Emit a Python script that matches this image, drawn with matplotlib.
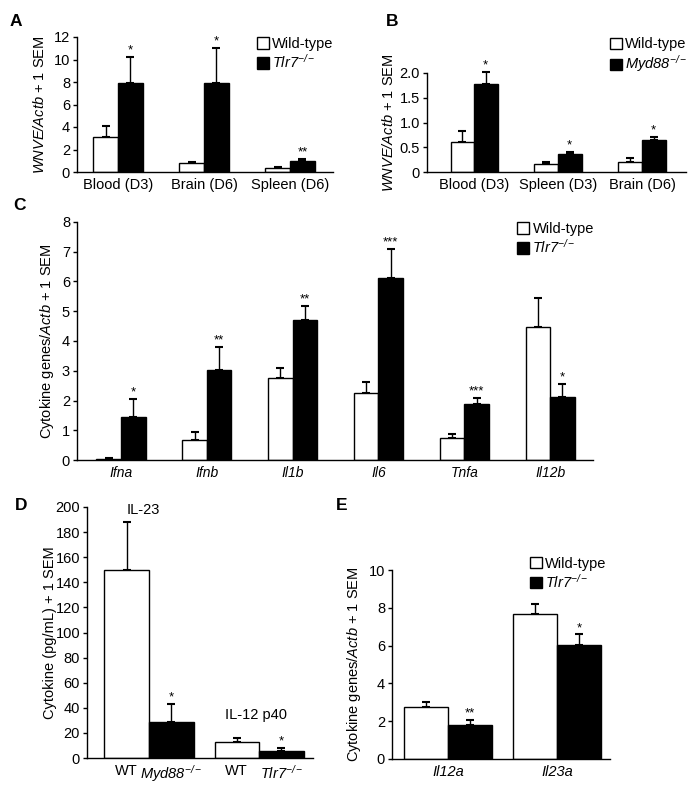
import numpy as np
import matplotlib
matplotlib.use('Agg')
import matplotlib.pyplot as plt
from matplotlib.patches import Patch

plt.rcParams['font.family'] = ['Liberation Sans', 'DejaVu Sans']
plt.rcParams['font.size'] = 10.5
plt.rcParams['mathtext.fontset'] = 'custom'
# italic for everything inside $...$, digits included (gene names)
plt.rcParams['mathtext.rm'] = 'Liberation Sans:italic'
plt.rcParams['mathtext.it'] = 'Liberation Sans:italic'
plt.rcParams['mathtext.bf'] = 'Liberation Sans:bold'
plt.rcParams['axes.linewidth'] = 1.0

# ---- data ----
# A: WNVE/Actb, WT vs Tlr7-/-
a_cats = ['Blood (D3)', 'Brain (D6)', 'Spleen (D6)']
a_wt = [3.15, 0.83, 0.35]
a_wt_sem = [0.98, 0.05, 0.09]
a_ko = [7.94, 7.88, 0.94]
a_ko_sem = [2.30, 3.18, 0.21]
a_stars = ['*', '*', '**']

# B: WNVE/Actb, WT vs Myd88-/-
b_cats = ['Blood (D3)', 'Spleen (D3)', 'Brain (D6)']
b_wt = [0.60, 0.17, 0.21]
b_wt_sem = [0.22, 0.04, 0.07]
b_ko = [1.77, 0.36, 0.65]
b_ko_sem = [0.26, 0.04, 0.05]
b_stars = ['*', '*', '*']

# C: cytokine genes
c_cats = ['Ifna', 'Ifnb', 'Il1b', 'Il6', 'Tnfa', 'Il12b']
c_wt = [0.05, 0.66, 2.74, 2.26, 0.74, 4.48]
c_wt_sem = [0.03, 0.27, 0.34, 0.35, 0.12, 0.96]
c_ko = [1.44, 3.03, 4.72, 6.11, 1.87, 2.11]
c_ko_sem = [0.60, 0.78, 0.47, 0.97, 0.21, 0.45]
c_stars = ['*', '**', '**', '***', '***', '*']

# D: cytokine protein (pg/mL)
d_groups = ['IL-23', 'IL-12 p40']
d_labels = ['WT', r'$Myd88^{-/-}$', 'WT', r'$Tlr7^{-/-}$']
d_wt = [150, 13]
d_wt_sem = [38, 3]
d_ko = [29, 5.5]
d_ko_sem = [14, 2.5]
d_stars = ['*', '*']

# E: Il12a / Il23a
e_cats = ['Il12a', 'Il23a']
e_wt = [2.77, 7.69]
e_wt_sem = [0.22, 0.53]
e_ko = [1.78, 6.04]
e_ko_sem = [0.27, 0.55]
e_stars = ['**', '*']

W, H = 696, 788
fig = plt.figure(figsize=(W / 100, H / 100), dpi=100)


def px_axes(l, r, t, b):
    return fig.add_axes([l / W, 1 - b / H, (r - l) / W, (b - t) / H])


def style(ax):
    for s in ['top', 'right']:
        ax.spines[s].set_visible(False)
    ax.tick_params(axis='y', direction='out', length=3, width=1, pad=2)
    ax.tick_params(axis='x', length=0, pad=4)


def pair_bars(ax, x, wt, wt_sem, ko, ko_sem, w, stars):
    x = np.asarray(x, dtype=float)
    ax.bar(x - w / 2, wt, w, color='white', edgecolor='black', lw=1, zorder=2)
    ax.bar(x + w / 2, ko, w, color='black', edgecolor='black', lw=1, zorder=2)
    for xs, v, s in [(x - w / 2, wt, wt_sem), (x + w / 2, ko, ko_sem)]:
        eb = ax.errorbar(xs, v, yerr=[np.zeros(len(v)), s], fmt='none',
                         ecolor='black', elinewidth=1, capsize=3, capthick=1.5, zorder=1)
        for art in eb.lines[1] + eb.lines[2]:
            art.set_clip_on(False)
    for xi, v, s, st in zip(x, ko, ko_sem, stars):
        ax.annotate(st, (xi + w / 2, v + s), xytext=(0, 2.5), textcoords='offset points',
                    ha='center', va='baseline', fontsize=9.5, annotation_clip=False)


def legend(ax, ko_label, x, y):
    handles = [Patch(facecolor='white', edgecolor='black', lw=1),
               Patch(facecolor='black', edgecolor='black', lw=1)]
    ax.legend(handles, ['Wild-type', ko_label], loc='upper left', bbox_to_anchor=(x, y),
              frameon=False, handlelength=0.8, handleheight=0.8, handletextpad=0.25,
              borderpad=0, borderaxespad=0, labelspacing=0.15, fontsize=10.5)


# ---- A ----
ax = px_axes(77, 333, 37, 172)
style(ax)
pair_bars(ax, np.arange(3), a_wt, a_wt_sem, a_ko, a_ko_sem, 0.29, a_stars)
ax.set_xlim(-0.477, 2.5)
ax.set_ylim(0, 12)
ax.set_yticks(range(0, 13, 2))
ax.set_xticks(np.arange(3))
ax.set_xticklabels(a_cats)
ax.set_ylabel(r'$WNVE/Actb$ + 1 SEM', labelpad=5)
legend(ax, r'$Tlr7^{-/-}$', 0.703, 1.0)

# ---- B ----
ax = px_axes(427, 686, 73, 172)
style(ax)
pair_bars(ax, np.arange(3), b_wt, b_wt_sem, b_ko, b_ko_sem, 0.28, b_stars)
ax.set_xlim(-0.56, 2.524)
ax.set_ylim(0, 2.0)
ax.set_yticks([0, 0.5, 1.0, 1.5, 2.0])
ax.set_yticklabels(['0', '0.5', '1.0', '1.5', '2.0'])
ax.set_xticks(np.arange(3))
ax.set_xticklabels(b_cats)
ax.set_ylabel(r'$WNVE/Actb$ + 1 SEM', labelpad=3)
legend(ax, r'$Myd88^{-/-}$', 0.707, 1.36)

# ---- C ----
ax = px_axes(77, 593, 222, 460)
style(ax)
pair_bars(ax, np.arange(6), c_wt, c_wt_sem, c_ko, c_ko_sem, 0.286, c_stars)
ax.set_xlim(-0.513, 5.5)
ax.set_ylim(0, 8)
ax.set_yticks(range(0, 9))
ax.set_xticks(np.arange(6))
ax.set_xticklabels(c_cats, style='italic', fontsize=10)
ax.set_ylabel(r'Cytokine genes/$Actb$ + 1 SEM', labelpad=4)
legend(ax, r'$Tlr7^{-/-}$', 0.853, 1.0)

# ---- D ----
ax = px_axes(87, 313, 507, 758)
style(ax)
pair_bars(ax, np.arange(2), d_wt, d_wt_sem, d_ko, d_ko_sem, 0.405, d_stars)
ax.set_xlim(-0.564, 1.49)
ax.set_ylim(0, 200)
ax.set_yticks(range(0, 201, 20))
ax.set_xticks([-0.2025, 0.2025, 0.7975, 1.2025])
ax.set_xticklabels(d_labels)
ax.set_ylabel('Cytokine (pg/mL) + 1 SEM', labelpad=-1)
ax.text(-0.05, 198, d_groups[0], ha='center', va='center')
ax.text(0.97, 34, d_groups[1], ha='center', va='center')

# ---- E ----
ax = px_axes(392, 610, 570, 759)
style(ax)
pair_bars(ax, np.arange(2), e_wt, e_wt_sem, e_ko, e_ko_sem, 0.40, e_stars)
ax.set_xlim(-0.514, 1.486)
ax.set_ylim(0, 10)
ax.set_yticks(range(0, 11, 2))
ax.set_xticks(np.arange(2))
ax.set_xticklabels(e_cats, style='italic')
ax.set_ylabel(r'Cytokine genes/$Actb$ + 1 SEM', labelpad=4)
legend(ax, r'$Tlr7^{-/-}$', 0.633, 1.07)

# panel letters
for lab, x, y in [('A', 16, 21), ('B', 392, 21), ('C', 20, 205), ('D', 21, 506), ('E', 342, 506)]:
    fig.text(x / W, 1 - y / H, lab, ha='center', va='center', fontsize=12.5, fontweight='bold')

fig.savefig('out.png', dpi=100)
